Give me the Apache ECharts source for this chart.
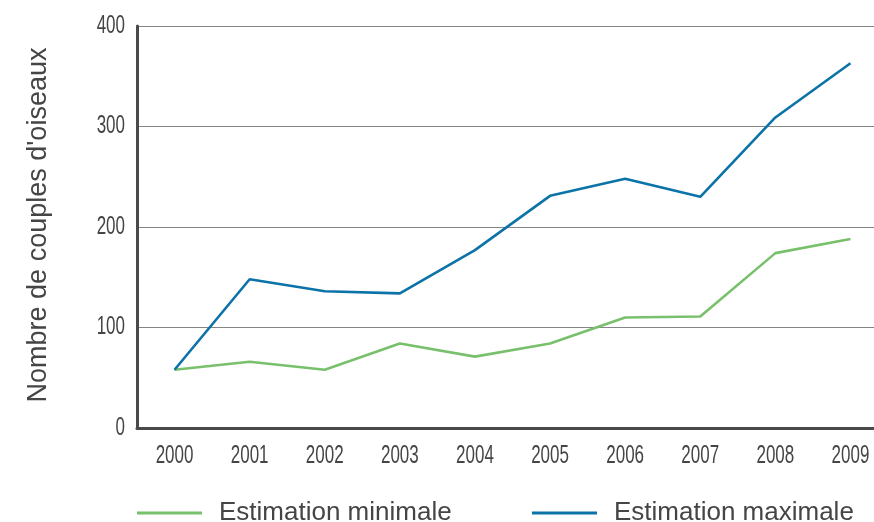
<!DOCTYPE html>
<html>
<head>
<meta charset="utf-8">
<script src="https://cdn.jsdelivr.net/npm/echarts@6/dist/echarts.min.js"></script>
<style>
  html, body { margin: 0; padding: 0; background: #ffffff; overflow: hidden; width: 874px; height: 522px; }
  /* the plot runs past the right edge of the page, so the chart box is wider than the window */
  #chart { width: 890px; height: 522px; }
</style>
</head>
<body>
<div id="chart"></div>
<script>
// Nesting pairs per year: lower and upper estimates
const years = ['2000', '2001', '2002', '2003', '2004', '2005', '2006', '2007', '2008', '2009'];
const estimationMinimale = [58, 66, 58, 84, 71, 84, 110, 111, 174, 188];
const estimationMaximale = [58, 148, 136, 134, 177, 231, 248, 230, 309, 363];
const yTicks = [0, 100, 200, 300, 400];

const regular = "'Liberation Sans', Arial, sans-serif";
const textColor = '#454545';
// tick labels are drawn horizontally squeezed to get a condensed face
const tickFont = "25px 'Liberation Sans', Arial, sans-serif";
const squeeze = 0.68;

const chart = echarts.init(document.getElementById('chart'), null, { renderer: 'canvas' });

chart.setOption({
  animation: false,
  backgroundColor: '#ffffff',
  grid: { left: 137, width: 751, top: 26, bottom: 94, containLabel: false },
  xAxis: {
    type: 'category',
    data: years,
    boundaryGap: true,
    axisLine: { show: true, lineStyle: { color: '#4a4a4a', width: 3 } },
    axisTick: { show: false },
    axisLabel: { show: false },
    splitLine: { show: false }
  },
  yAxis: {
    type: 'value',
    min: yTicks[0],
    max: yTicks[yTicks.length - 1],
    interval: 100,
    name: "Nombre de couples d'oiseaux",
    nameLocation: 'middle',
    nameGap: 85,
    nameTextStyle: { color: textColor, fontFamily: regular, fontSize: 27, padding: [0, 0, 0, 4] },
    axisLine: { show: true, lineStyle: { color: '#4a4a4a', width: 3 } },
    axisTick: { show: false },
    axisLabel: { show: false },
    splitLine: { show: true, lineStyle: { color: '#858585', width: 1.2 } }
  },
  legend: [
    {
      data: ['Estimation minimale'],
      left: 137,
      top: 500,
      padding: 0,
      icon: 'rect',
      itemWidth: 65,
      itemHeight: 3,
      textStyle: { color: textColor, fontFamily: regular, fontSize: 26, padding: [0, 0, 0, 12] }
    },
    {
      data: ['Estimation maximale'],
      left: 532,
      top: 500,
      padding: 0,
      icon: 'rect',
      itemWidth: 65,
      itemHeight: 3,
      textStyle: { color: textColor, fontFamily: regular, fontSize: 26, padding: [0, 0, 0, 12] }
    }
  ],
  series: [
    {
      name: 'Estimation minimale',
      type: 'line',
      data: estimationMinimale,
      symbol: 'none',
      color: '#79c06d',
      lineStyle: { color: '#79c06d', width: 2.6 },
      z: 3
    },
    {
      name: 'Estimation maximale',
      type: 'line',
      data: estimationMaximale,
      symbol: 'none',
      color: '#0b73a7',
      lineStyle: { color: '#0b73a7', width: 2.6 },
      z: 4
    }
  ]
});

// Tick labels placed from the axes' own scales
const tickLabels = [];
years.forEach(function (year, i) {
  const p = chart.convertToPixel({ xAxisIndex: 0, yAxisIndex: 0 }, [i, 0]);
  tickLabels.push({
    type: 'text',
    x: p[0],
    y: p[1] + 28,
    scaleX: squeeze,
    silent: true,
    style: { text: year, font: tickFont, fill: textColor, textAlign: 'center', textVerticalAlign: 'middle' }
  });
});
yTicks.forEach(function (v) {
  const p = chart.convertToPixel({ xAxisIndex: 0, yAxisIndex: 0 }, [0, v]);
  tickLabels.push({
    type: 'text',
    x: 125,
    y: p[1],
    scaleX: squeeze,
    silent: true,
    style: { text: String(v), font: tickFont, fill: textColor, textAlign: 'right', textVerticalAlign: 'middle' }
  });
});
chart.setOption({ graphic: tickLabels });
</script>
</body>
</html>
